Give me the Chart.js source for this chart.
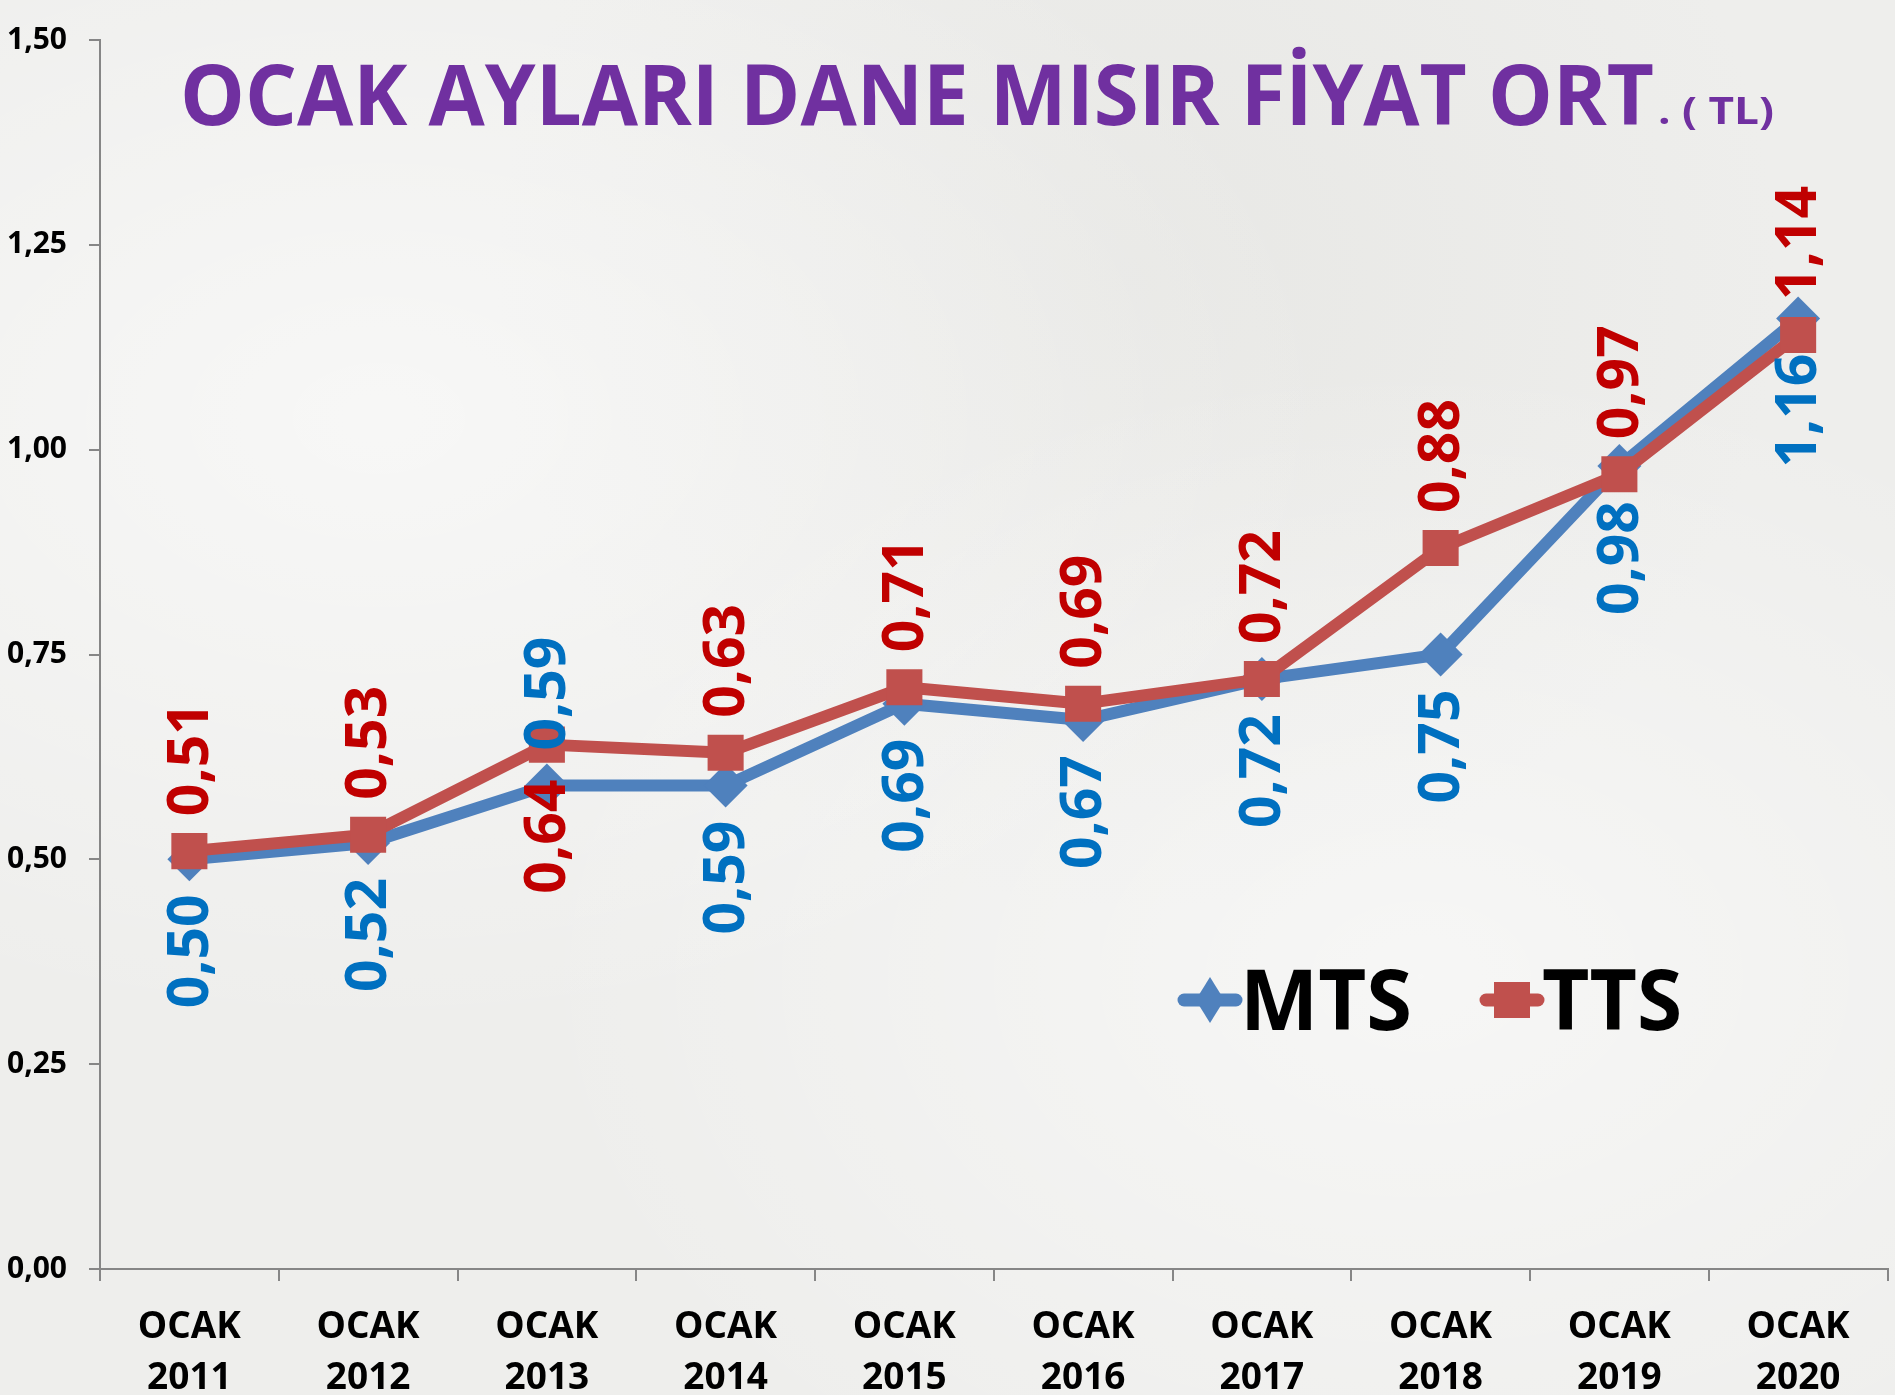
<!DOCTYPE html>
<html><head><meta charset="utf-8">
<script src="https://cdn.jsdelivr.net/npm/chart.js@4/dist/chart.umd.min.js"></script>
<style>
html,body{margin:0;padding:0;background:#efefed;overflow:hidden;}
#wrap{width:1895px;height:1395px;position:relative;overflow:hidden;
 background:
  radial-gradient(ellipse at 20% 30%, rgba(255,255,255,0.55), rgba(255,255,255,0) 45%),
  radial-gradient(ellipse at 75% 70%, rgba(255,255,255,0.5), rgba(255,255,255,0) 45%),
  radial-gradient(ellipse at 60% 20%, rgba(220,220,216,0.35), rgba(220,220,216,0) 40%),
  #eeeeec;}
canvas{display:block;}
</style></head><body>
<div id="wrap"><canvas id="c" width="1913" height="1395"></canvas></div>
<script>
const categories = [['OCAK','2011'],['OCAK','2012'],['OCAK','2013'],['OCAK','2014'],['OCAK','2015'],['OCAK','2016'],['OCAK','2017'],['OCAK','2018'],['OCAK','2019'],['OCAK','2020']];
const mtsValues = [0.50, 0.52, 0.59, 0.59, 0.69, 0.67, 0.72, 0.75, 0.98, 1.16];
const ttsValues = [0.51, 0.53, 0.64, 0.63, 0.71, 0.69, 0.72, 0.88, 0.97, 1.14];
const yTickLabels = ['0,00','0,25','0,50','0,75','1,00','1,25','1,50'];
const seriesNames = ['MTS','TTS'];
const titleMain = 'OCAK AYLARI DANE MISIR FİYAT ORT';
const titleSuffix = '. ( TL)';

const FONT = "'Open Sans', 'DejaVu Sans', sans-serif";
const fmt = v => v.toFixed(2).replace('.', ',');

function fitText(ctx, text, x, y, targetW){
  const w = ctx.measureText(text).width;
  const s = targetW / w;
  ctx.save();
  ctx.translate(x, y);
  ctx.scale(s, 1);
  ctx.fillText(text, 0, 0);
  ctx.restore();
}

const labelPlugin = {
  id: 'vlabels',
  afterDatasetsDraw(chart, args, opts){
    const ctx = chart.ctx;
    chart.data.datasets.forEach((ds, di) => {
      const meta = chart.getDatasetMeta(di);
      const sides = opts.sides[di];
      ctx.save();
      ctx.font = opts.font;
      ctx.fillStyle = opts.colors[di];
      ctx.textBaseline = 'middle';
      meta.data.forEach((pt, i) => {
        const text = fmt(ds.data[i]);
        ctx.save();
        ctx.translate(pt.x, pt.y);
        ctx.rotate(-Math.PI/2);
        if (sides[i] === 'above'){ ctx.textAlign = 'left'; ctx.fillText(text, opts.gap, 2); }
        else { ctx.textAlign = 'right'; ctx.fillText(text, -opts.gap, 2); }
        ctx.restore();
      });
      ctx.restore();
    });
  }
};

const decorPlugin = {
  id: 'decor',
  afterDraw(chart){
    const ctx = chart.ctx;
    ctx.save();
    ctx.fillStyle = '#7030A0';
    ctx.textBaseline = 'alphabetic';
    ctx.textAlign = 'left';
    ctx.font = 'bold 84px ' + FONT;
    fitText(ctx, titleMain, 180, 125, 1474);
    ctx.font = 'bold 38px ' + FONT;
    fitText(ctx, titleSuffix, 1658, 124, 116);
    ctx.restore();

    const items = [
      {x: 1178, text: seriesNames[0], ds: chart.data.datasets[0], tw: 172},
      {x: 1480, text: seriesNames[1], ds: chart.data.datasets[1], tw: 140}
    ];
    const cy = 1000;
    items.forEach(it => {
      ctx.save();
      ctx.strokeStyle = it.ds.borderColor;
      ctx.lineWidth = 13;
      ctx.lineCap = 'round';
      ctx.beginPath();
      ctx.moveTo(it.x + 6, cy);
      ctx.lineTo(it.x + 58, cy);
      ctx.stroke();
      ctx.fillStyle = it.ds.borderColor;
      const cx = it.x + 32;
      if (it.ds.pointStyle === 'rectRot'){
        const r = 23;
        ctx.beginPath();
        ctx.moveTo(cx, cy - r); ctx.lineTo(cx + r*0.62, cy); ctx.lineTo(cx, cy + r); ctx.lineTo(cx - r*0.62, cy);
        ctx.closePath(); ctx.fill();
      } else {
        ctx.fillRect(cx - 18, cy - 18, 36, 36);
      }
      ctx.fillStyle = '#000000';
      ctx.font = 'bold 84px ' + FONT;
      ctx.textBaseline = 'alphabetic';
      ctx.textAlign = 'left';
      fitText(ctx, it.text, it.x + 62, 1030, it.tw);
      ctx.restore();
    });
  }
};

const ctx = document.getElementById('c').getContext('2d');
new Chart(ctx, {
  type: 'line',
  data: {
    labels: categories,
    datasets: [
      { label: seriesNames[0], data: mtsValues, borderColor: '#4F81BD', backgroundColor: '#4F81BD',
        borderWidth: 12, pointStyle: 'rectRot', pointRadius: 22, pointBorderWidth: 0,
        pointBackgroundColor: '#4F81BD', tension: 0, order: 1, borderJoinStyle: 'round' },
      { label: seriesNames[1], data: ttsValues, borderColor: '#C0504D', backgroundColor: '#C0504D',
        borderWidth: 12, pointStyle: 'rect', pointRadius: 25.5, pointBorderWidth: 0,
        pointBackgroundColor: '#C0504D', tension: 0, order: 0, borderJoinStyle: 'round' }
    ]
  },
  options: {
    responsive: false,
    animation: false,
    events: [],
    layout: { padding: { top: 39, right: 7, left: 0, bottom: 0 } },
    plugins: {
      legend: { display: false },
      title: { display: false },
      tooltip: { enabled: false },
      vlabels: {
        font: 'bold 57px ' + FONT,
        gap: 35,
        colors: ['#0070C0', '#C00000'],
        sides: [
          ['below','below','above','below','below','below','below','below','below','below'],
          ['above','above','below','above','above','above','above','above','above','above']
        ]
      }
    },
    scales: {
      x: {
        offset: true,
        grid: { offset: true, drawOnChartArea: false, drawTicks: true, tickLength: 12, color: '#868686', lineWidth: 2 },
        border: { color: '#868686', width: 2 },
        ticks: { color: '#000', font: { family: FONT, size: 37, weight: 'bold', lineHeight: 1.38 }, padding: 21, maxRotation: 0, autoSkip: false },
        afterFit(s){ s.height = 126; }
      },
      y: {
        min: 0, max: 1.5,
        grid: { drawOnChartArea: false, drawTicks: true, tickLength: 11, color: '#868686', lineWidth: 2 },
        border: { color: '#868686', width: 2 },
        ticks: { stepSize: 0.25, color: '#000', font: { family: FONT, size: 30, weight: 'bold' }, padding: 22,
          callback: (v) => yTickLabels[Math.round(v / 0.25)] },
        afterFit(s){ s.width = 100; }
      }
    }
  },
  plugins: [labelPlugin, decorPlugin]
});
</script>
</body></html>
